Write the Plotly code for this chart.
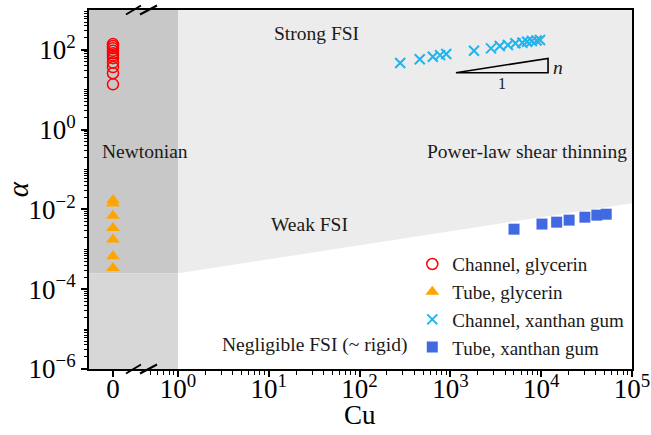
import numpy as np
import plotly.graph_objects as go

# ---------------- data ----------------
# Newtonian fluids (Cu = 0)
glyc_channel_alpha = [140, 125, 110, 95, 82, 72, 62, 48, 37, 26, 13.7]
glyc_tube_alpha = [0.0171, 0.0141, 0.0069, 0.00344, 0.00176, 0.00067, 0.00034]

# Xanthan gum (shear thinning)
xg_channel_cu = [280, 460, 640, 770, 900, 1820, 2800, 3500, 4300, 5200, 6200, 7000, 7900, 8900, 9700]
xg_channel_alpha = [47, 58, 67, 74, 79, 95, 109, 125, 132, 146, 151, 160, 167, 172, 177]
xg_tube_cu = [5020, 10200, 14800, 20300, 30300, 41000, 52000]
xg_tube_alpha = [0.0032, 0.0043, 0.0048, 0.0054, 0.0064, 0.0072, 0.0076]

# regime boundaries
newtonian_cu_max = 1.0
weak_boundary_cu = [1.0, 1e5]
weak_boundary_alpha = [2.5e-4, 0.0144]

# slope triangle (n)
slope_cu = [1150, 11900, 11900, 1150]
slope_alpha = [26.7, 26.7, 61.4, 26.7]

x_tick_labels = ["0", "10<sup>0</sup>", "10<sup>1</sup>", "10<sup>2</sup>",
                 "10<sup>3</sup>", "10<sup>4</sup>", "10<sup>5</sup>"]
y_tick_exps = [-6, -4, -2, 0, 2]

# ---------------- axis mapping (broken axis) ----------------
X_ZERO = -0.716        # position of the "Cu = 0" column
X_LEFT = -0.98
X_RIGHT = 5.0
Y_MIN, Y_MAX = 1e-6, 1e3


def xpos(cu):
    cu = np.asarray(cu, dtype=float)
    return np.log10(cu)


FONT = "Liberation Serif, Times New Roman, serif"
TXT_COLOR = "#1a1a1a"

fig = go.Figure()

# ---------------- shaded regimes ----------------
x0n = float(xpos(newtonian_cu_max))
bx = xpos(weak_boundary_cu)
fig.add_trace(go.Scatter(
    x=[bx[0], bx[1], X_RIGHT, bx[0], bx[0]],
    y=[weak_boundary_alpha[0], weak_boundary_alpha[1], Y_MAX, Y_MAX, weak_boundary_alpha[0]],
    fill="toself", fillcolor="#ececec", line=dict(width=0), mode="lines",
    showlegend=False, hoverinfo="skip"))
fig.add_trace(go.Scatter(
    x=[X_LEFT, x0n, x0n, X_LEFT, X_LEFT],
    y=[weak_boundary_alpha[0], weak_boundary_alpha[0], Y_MAX, Y_MAX, weak_boundary_alpha[0]],
    fill="toself", fillcolor="#c8c8c8", line=dict(width=0), mode="lines",
    showlegend=False, hoverinfo="skip"))
fig.add_trace(go.Scatter(
    x=[X_LEFT, x0n, x0n, X_LEFT, X_LEFT],
    y=[Y_MIN, Y_MIN, weak_boundary_alpha[0], weak_boundary_alpha[0], Y_MIN],
    fill="toself", fillcolor="#d7d7d7", line=dict(width=0), mode="lines",
    showlegend=False, hoverinfo="skip"))

# slope triangle
fig.add_trace(go.Scatter(
    x=xpos(slope_cu), y=slope_alpha, mode="lines",
    line=dict(color="black", width=1.6), showlegend=False, hoverinfo="skip"))

# ---------------- data ----------------
fig.add_trace(go.Scatter(
    x=[X_ZERO] * len(glyc_channel_alpha), y=glyc_channel_alpha, mode="markers",
    name="Channel, glycerin",
    marker=dict(symbol="circle-open", size=11, color="#ff0000", line=dict(width=1.5, color="#ff0000"))))
fig.add_trace(go.Scatter(
    x=[X_ZERO] * len(glyc_tube_alpha), y=glyc_tube_alpha, mode="markers",
    name="Tube, glycerin",
    marker=dict(symbol="triangle-up", size=12, color="#ffa500")))
fig.add_trace(go.Scatter(
    x=xpos(xg_channel_cu), y=xg_channel_alpha, mode="markers",
    name="Channel, xanthan gum",
    marker=dict(symbol="x-thin", size=10, color="#1fb4ee", line=dict(width=2, color="#1fb4ee"))))
fig.add_trace(go.Scatter(
    x=xpos(xg_tube_cu), y=xg_tube_alpha, mode="markers",
    name="Tube, xanthan gum",
    marker=dict(symbol="square", size=11, color="#4169e1")))

# ---------------- text ----------------
txt = dict(font=dict(family=FONT, size=19.5, color=TXT_COLOR), showarrow=False,
           xref="x", yref="y", xanchor="center", yanchor="middle")
fig.add_annotation(x=-0.363, y=-0.538, text="Newtonian", **txt)
fig.add_annotation(x=3.84, y=-0.538, text="Power-law shear thinning", **txt)
fig.add_annotation(x=1.52, y=2.42, text="Strong FSI", **txt)
fig.add_annotation(x=1.45, y=-2.37, text="Weak FSI", **txt)
fig.add_annotation(x=1.51, y=-5.41, text="Negligible FSI (~ rigid)", **txt)
fig.add_annotation(x=4.185, y=1.57, text="<i>n</i>", **txt)
fig.add_annotation(x=3.57, y=1.17, text="1",
                   **dict(txt, font=dict(family=FONT, size=16, color=TXT_COLOR)))

# axis titles
fig.add_annotation(xref="paper", yref="paper", x=0.499, y=-0.127, text="Cu",
                   xanchor="center", yanchor="middle",
                   showarrow=False, font=dict(family=FONT, size=27, color="black"))
fig.add_annotation(xref="paper", yref="paper", x=-0.131, y=0.5, text="<i>α</i>",
                   xanchor="center", yanchor="middle",
                   textangle=-90, showarrow=False, font=dict(family=FONT, size=29, color="black"))

# broken-axis marks (paper coordinates)
L, W, T, H = 89, 543, 10, 358.7


def px2paper(px, py):
    return (px - L) / W, (T + H - py) / H


for ypix in (368.7, 10.0):
    for (xa, xb) in ((126, 141), (140, 157)):
        xa_p, ya_p = px2paper(xa, ypix + 4.5)
        xb_p, yb_p = px2paper(xb, ypix - 4.5)
        fig.add_shape(type="line", xref="paper", yref="paper",
                      x0=xa_p, y0=ya_p, x1=xb_p, y1=yb_p,
                      line=dict(color="black", width=2), layer="above")

# ---------------- axes ----------------
minor_x = []
for k in range(5, 10):
    minor_x.append(np.log10(k) - 1)
for d in range(0, 5):
    for k in range(2, 10):
        minor_x.append(d + np.log10(k))

minor_y = []
for d in range(-6, 3):
    for k in range(1, 10):
        v = k * 10.0 ** d
        if k == 1 and d in y_tick_exps:
            continue
        minor_y.append(v)

fig.update_xaxes(
    range=[X_LEFT, X_RIGHT], showgrid=False, zeroline=False, automargin=False,
    showline=True, linecolor="black", linewidth=2, mirror=True,
    ticks="outside", ticklen=6, tickwidth=1.5, tickcolor="black",
    tickmode="array", tickvals=[X_ZERO, 0, 1, 2, 3, 4, 5], ticktext=x_tick_labels,
    tickfont=dict(family=FONT, size=27, color="black"), ticklabelstandoff=-11,
    minor=dict(tickmode="array", tickvals=minor_x, ticks="outside", ticklen=3.5,
               tickwidth=1, tickcolor="black", showgrid=False),
)
fig.update_yaxes(
    type="log", range=[np.log10(Y_MIN), np.log10(Y_MAX)], showgrid=False, zeroline=False,
    automargin=False,
    showline=True, linecolor="black", linewidth=2, mirror=True,
    ticks="outside", ticklen=6, tickwidth=1.5, tickcolor="black",
    tickmode="array", tickvals=[10.0 ** e for e in y_tick_exps],
    ticktext=["10<sup>%s</sup>" % (str(e).replace("-", "−")) for e in y_tick_exps],
    tickfont=dict(family=FONT, size=27, color="black"),
    minor=dict(tickmode="array", tickvals=minor_y, ticks="outside", ticklen=3,
               tickwidth=1, tickcolor="black", showgrid=False),
)

fig.update_layout(
    width=651, height=435,
    margin=dict(l=89, r=19, t=10, b=66.3),
    paper_bgcolor="white", plot_bgcolor="white",
    font=dict(family=FONT, color="black"),
    legend=dict(x=0.995, y=0.345, xanchor="right", yanchor="top",
                bgcolor="rgba(0,0,0,0)", font=dict(family=FONT, size=19, color=TXT_COLOR),
                tracegroupgap=0, itemsizing="trace"),
    showlegend=True,
)

fig.write_html("out.html")
